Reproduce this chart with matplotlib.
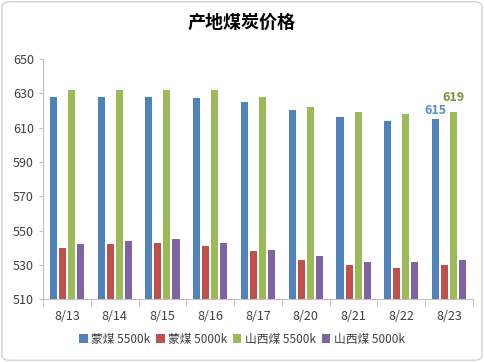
import numpy as np
import matplotlib
matplotlib.use("Agg")
import matplotlib.pyplot as plt
from matplotlib.patches import FancyBboxPatch

plt.rcParams["font.family"] = ["Noto Sans CJK SC", "DejaVu Sans"]

# ── data ──────────────────────────────────────────────────────────────────────
dates = ["8/13", "8/14", "8/15", "8/16", "8/17", "8/20", "8/21", "8/22", "8/23"]
series_names = ["蒙煤 5500k", "蒙煤 5000k", "山西煤 5500k", "山西煤 5000k"]
meng_5500 = [628, 628, 628, 627, 625, 620, 616, 614, 615]
meng_5000 = [540, 542, 543, 541, 538, 533, 530, 528, 530]
shanxi_5500 = [632, 632, 632, 632, 628, 622, 619, 618, 619]
shanxi_5000 = [542, 544, 545, 543, 539, 535, 532, 532, 533]
yticks = [510, 530, 550, 570, 590, 610, 630, 650]

colors = ["#4F81BD", "#C0504D", "#9BBB59", "#8064A2"]
all_series = [meng_5500, meng_5000, shanxi_5500, shanxi_5000]

# ── figure ────────────────────────────────────────────────────────────────────
fig = plt.figure(figsize=(4.84, 3.62), dpi=100)
ax = fig.add_axes([43 / 484, 1 - 299.3 / 362, (473 - 43) / 484, (299.3 - 59) / 362])

x = np.arange(len(dates))
bw = 0.147
step = 0.189
for i, (vals, c, name) in enumerate(zip(all_series, colors, series_names)):
    off = (i - 1.5) * step
    ax.bar(x + off, vals, width=bw, color=c, label=name, zorder=2)

# end labels on last category
ax.text(x[-1] - 1.5 * step, meng_5500[-1] + 1.5, str(meng_5500[-1]),
        ha="center", va="bottom", fontsize=9, fontweight="bold", color="#558ED5")
ax.text(x[-1] + 0.5 * step, shanxi_5500[-1] + 4.5, str(shanxi_5500[-1]),
        ha="center", va="bottom", fontsize=9, fontweight="bold", color="#76923C")

ax.set_ylim(510, 650)
ax.set_yticks(yticks)
ax.set_xlim(-0.5, len(dates) - 0.5)
ax.set_xticks(x)
ax.set_xticklabels(dates)
ax.set_xticks(np.arange(len(dates) + 1) - 0.5, minor=True)
ax.tick_params(axis="x", which="major", length=0, pad=8, labelsize=9, labelcolor="#404040")
ax.tick_params(axis="x", which="minor", length=5, color="#BFBFBF")
ax.tick_params(axis="y", length=3, color="#BFBFBF", labelsize=9, labelcolor="#404040")

for s in ["top", "right"]:
    ax.spines[s].set_visible(False)
for s in ["left", "bottom"]:
    ax.spines[s].set_color("#BFBFBF")

fig.text(0.5, 1 - 22 / 362, "产地煤炭价格", ha="center", va="center",
         fontsize=13, fontweight="bold", color="#000000")

ax.legend(loc="center", bbox_to_anchor=(0.5, 1 - 339 / 362), bbox_transform=fig.transFigure,
          ncol=4, frameon=False, fontsize=8.5, handlelength=0.7, handleheight=0.7,
          handletextpad=0.3, columnspacing=0.5, labelcolor="#404040")

# chart border
fig.patches.append(FancyBboxPatch((0.004, 0.005), 0.992, 0.99,
                                  boxstyle="round,pad=0,rounding_size=0.015",
                                  transform=fig.transFigure, fill=False,
                                  edgecolor="#C8C8C8", linewidth=0.8))

fig.savefig("out.png", dpi=100)
